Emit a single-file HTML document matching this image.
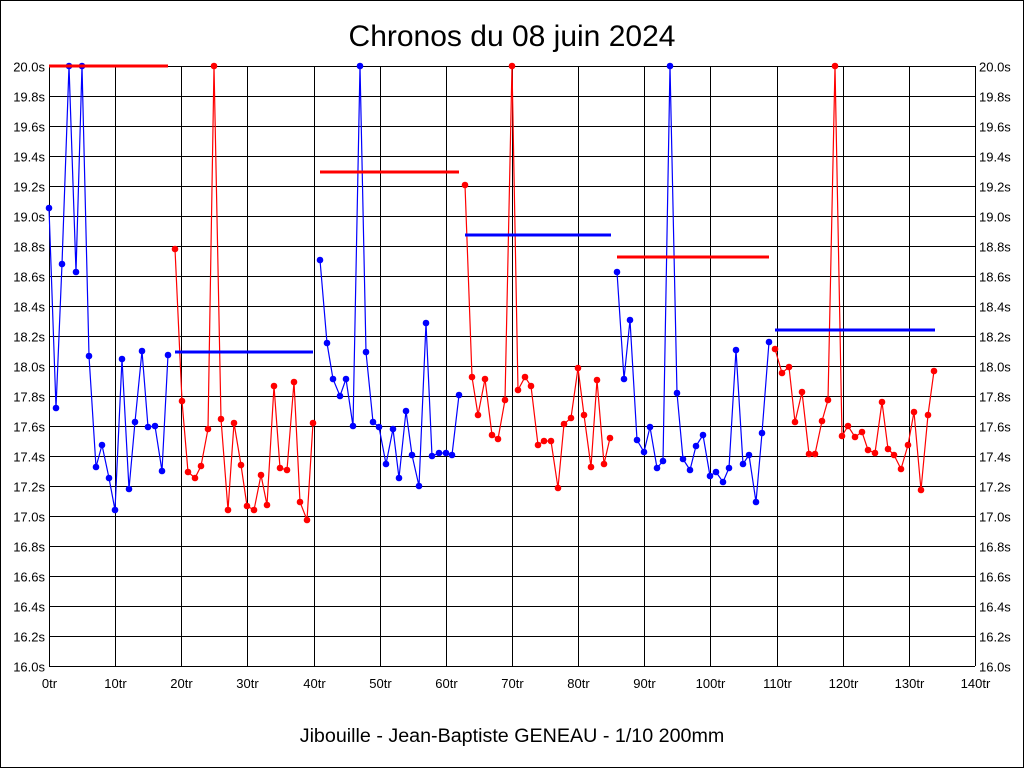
<!DOCTYPE html>
<html><head><meta charset="utf-8"><style>
body{margin:0;background:#fff;}
svg{display:block;font-family:"Liberation Sans",Arial,sans-serif;}
</style></head><body>
<svg width="1024" height="768" viewBox="0 0 1024 768" xmlns="http://www.w3.org/2000/svg">
<rect x="0.5" y="0.5" width="1023" height="767" fill="#fff" stroke="#000"/>
<text x="512" y="46" font-size="30" text-anchor="middle">Chronos du 08 juin 2024</text>
<text x="512" y="742" font-size="19.7" text-anchor="middle">Jibouille - Jean-Baptiste GENEAU - 1/10 200mm</text>
<g id="grid" stroke="#000" stroke-width="1"></g>
<g id="lbl" font-size="13"></g>
<g id="data"></g>
<script>
var g=document.getElementById('grid'),l=document.getElementById('lbl'),ns='http://www.w3.org/2000/svg';
function el(p,t,a,txt){var e=document.createElementNS(ns,t);for(var k in a)e.setAttribute(k,a[k]);if(txt)e.textContent=txt;p.appendChild(e);return e;}
for(var i=0;i<=20;i++){var y=66+i*30+0.5;el(g,'line',{x1:49,x2:975,y1:y,y2:y});
var v=(20-i*0.2).toFixed(1)+'s';el(l,'text',{x:45,y:y+5,'text-anchor':'end'},v);el(l,'text',{x:979,y:y+5},v);}
for(var i=0;i<=14;i++){var x=49+i*926/14;x=Math.round(x)+0.5;el(g,'line',{x1:x,x2:x,y1:66,y2:666});
el(l,'text',{x:x,y:688,'text-anchor':'middle'},(i*10)+'tr');}
var segs=[
['#00f',[[49,208],[56,408],[62,264],[69,66],[76,272],[82,66],[89,356],[96,467],[102,445],[109,478],[115,510],[122,359],[129,489],[135,422],[142,351],[148,427],[155,426],[162,471],[168,355]]],
['#f00',[[175,249],[182,401],[188,472],[195,478],[201,466],[208,429],[214,66],[221,419],[228,510],[234,423],[241,465],[247,506],[254,510],[261,475],[267,505],[274,386],[280,468],[287,470],[294,382],[300,502],[307,520],[313,423]]],
['#00f',[[320,260],[327,343],[333,379],[340,396],[346,379],[353,426],[360,66],[366,352],[373,422],[379,427],[386,464],[393,429],[399,478],[406,411],[412,455],[419,486],[426,323],[432,456],[439,453],[446,453],[452,455],[459,395]]],
['#f00',[[465,185],[472,377],[478,415],[485,379],[492,435],[498,439],[505,400],[512,66],[518,390],[525,377],[531,386],[538,445],[544,441],[551,441],[558,488],[564,424],[571,418],[578,368],[584,415],[591,467],[597,380],[604,464],[610,438]]],
['#00f',[[617,272],[624,379],[630,320],[637,440],[644,452],[650,427],[657,468],[663,461],[670,66],[677,393],[683,459],[690,470],[696,446],[703,435],[710,476],[716,472],[723,482],[729,468],[736,350],[743,464],[749,455],[756,502],[762,433],[769,342]]],
['#f00',[[775,349],[782,373],[789,367],[795,422],[802,392],[809,454],[815,454],[822,421],[828,400],[835,66],[842,436],[848,426],[855,437],[862,432],[868,450],[875,453],[882,402],[888,449],[894,455],[901,469],[908,445],[914,412],[921,490],[928,415],[934,371]]]];
var d=document.getElementById('data');
segs.forEach(function(s){el(d,'polyline',{points:s[1].map(function(p){return p.join(',')}).join(' '),fill:'none',stroke:s[0],'stroke-width':1.2});
s[1].forEach(function(p){el(d,'circle',{cx:p[0],cy:p[1],r:3.3,fill:s[0]});});});
[['#f00',49,168,66],['#00f',175,313,352],['#f00',320,459,172],['#00f',465,611,235],['#f00',617,769,257],['#00f',775,935,330]].forEach(function(m){
el(d,'line',{x1:m[1],x2:m[2],y1:m[3],y2:m[3],stroke:m[0],'stroke-width':3});});
</script>
</svg>
</body></html>
